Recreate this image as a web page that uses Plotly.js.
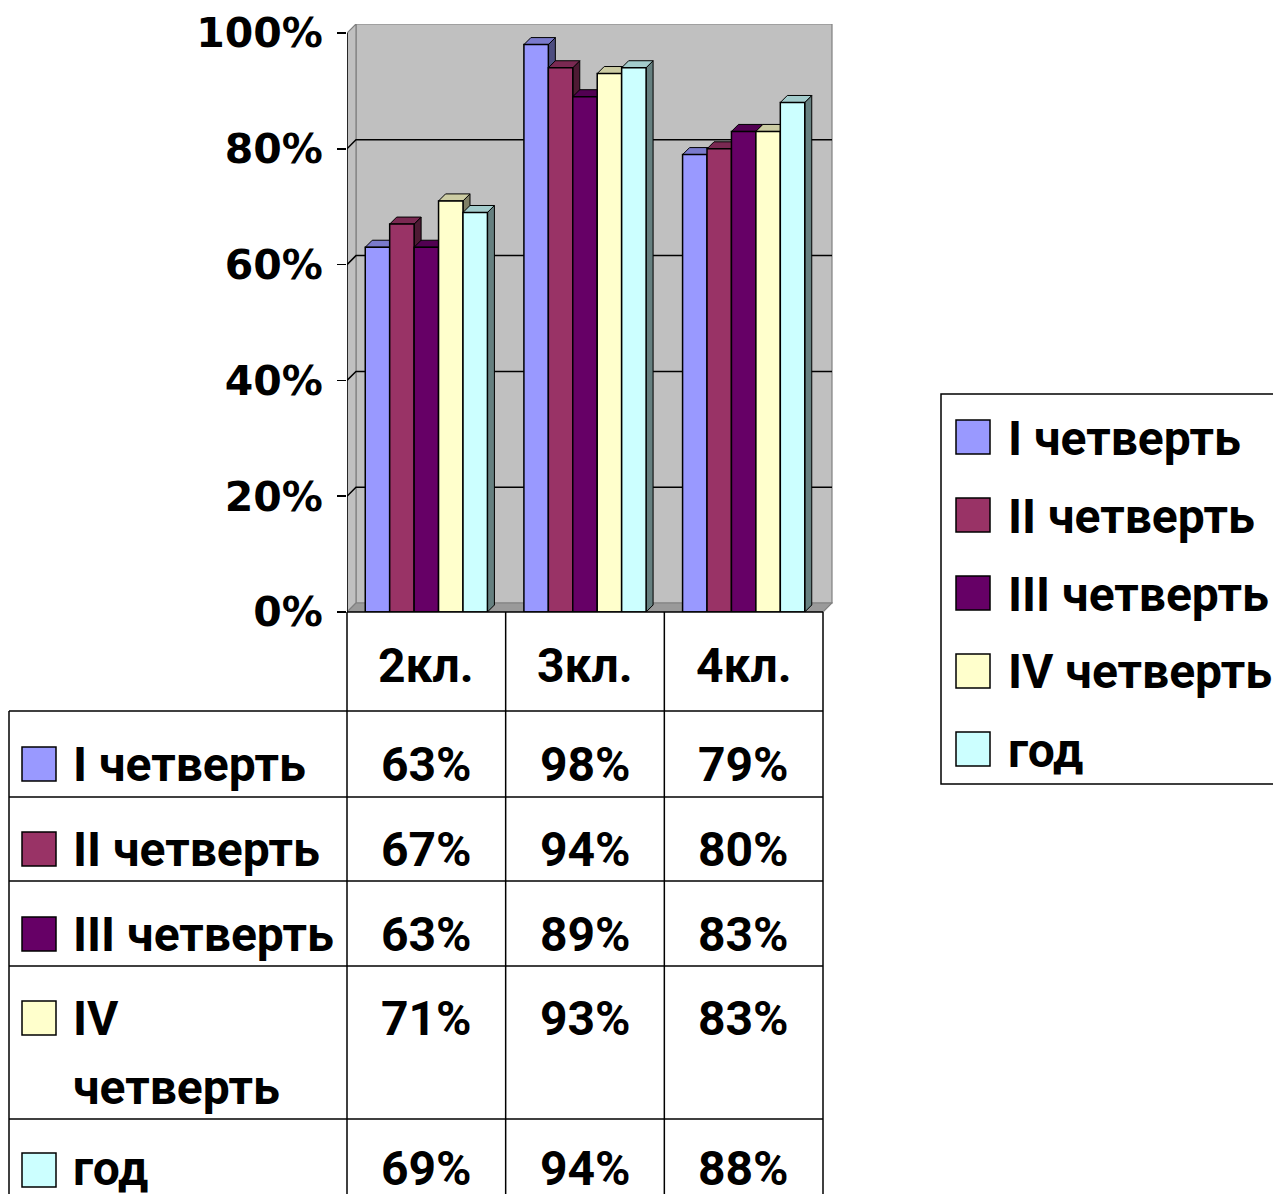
<!DOCTYPE html>
<html><head><meta charset="utf-8">
<script src="https://cdn.plot.ly/plotly-3.0.1.min.js"></script>
<style>html,body{margin:0;padding:0;background:#fff;} #chart{width:1273px;height:1194px;}</style>
</head><body><div id="chart"></div>
<script>
// ---- data ----
const categories = ['2кл.', '3кл.', '4кл.'];
const seriesNames = ['I четверть', 'II четверть', 'III четверть', 'IV четверть', 'год'];
const q1 = [63, 98, 79];
const q2 = [67, 94, 80];
const q3 = [63, 89, 83];
const q4 = [71, 93, 83];
const yearVals = [69, 94, 88];
const yTicks = [0, 20, 40, 60, 80, 100];

const seriesValues = [q1, q2, q3, q4, yearVals];
const fills = ['#9999FF', '#993366', '#660066', '#FFFFCC', '#CCFFFF'];

// ---- geometry (px) ----
const W = 1273, H = 1194;
const L = 347, R = 833, T = 24, B = 612;
const FRONT_R = 823, TOP100 = 33;
const UX = (FRONT_R - L) / categories.length;
const UY = (B - TOP100) / 100;
const XMIN = -0.5, XFRONT = XMIN + categories.length, XMAX = XMIN + (R - L) / UX;
const YMAX = (B - T) / UY;
const GAP = 0.23;
const BW = (1 - GAP) / seriesNames.length;
const WD = 9, BD = 7;
const wdx = WD / UX, wdy = WD / UY, bdx = BD / UX, bdy = BD / UY;

function shade(hex, k) {
  const n = parseInt(hex.slice(1), 16);
  const r = Math.round(((n >> 16) & 255) * k), g = Math.round(((n >> 8) & 255) * k), b = Math.round((n & 255) * k);
  return 'rgb(' + r + ',' + g + ',' + b + ')';
}
function px(X) { return (X - L) / (R - L); }
function py(Y) { return (B - Y) / (B - T); }

const shapes = [];
// back wall
shapes.push({type: 'path', xref: 'x', yref: 'y', layer: 'below',
  path: `M${XMIN + wdx},${wdy} L${XMIN + wdx},${100 + wdy} L${XFRONT + wdx},${100 + wdy} L${XFRONT + wdx},${wdy} Z`,
  fillcolor: '#C0C0C0', line: {color: '#808080', width: 1.2}});
// left wall
shapes.push({type: 'path', xref: 'x', yref: 'y', layer: 'below',
  path: `M${XMIN},0 L${XMIN + wdx},${wdy} L${XMIN + wdx},${100 + wdy} L${XMIN},100 Z`,
  fillcolor: '#C0C0C0', line: {color: '#808080', width: 1.2}});
// floor
shapes.push({type: 'path', xref: 'x', yref: 'y', layer: 'below',
  path: `M${XMIN},0 L${XMIN + wdx},${wdy} L${XFRONT + wdx},${wdy} L${XFRONT},0 Z`,
  fillcolor: '#9A9A9A', line: {color: '#808080', width: 1.2}});
// gridlines on walls
yTicks.filter(t => t > 0 && t < 100).forEach(t => {
  shapes.push({type: 'path', xref: 'x', yref: 'y', layer: 'below',
    path: `M${XMIN},${t} L${XMIN + wdx},${t + wdy} L${XFRONT + wdx},${t + wdy}`,
    line: {color: '#000', width: 1.5}});
});
// 3D faces of bars
categories.forEach((c, j) => {
  seriesValues.forEach((vals, i) => {
    const v = vals[j];
    const xl = j - (1 - GAP) / 2 + i * BW, xr = xl + BW;
    shapes.push({type: 'path', xref: 'x', yref: 'y', layer: 'below',
      path: `M${xr},0 L${xr + bdx},${bdy} L${xr + bdx},${v + bdy} L${xr},${v} Z`,
      fillcolor: shade(fills[i], 0.5), line: {color: '#000', width: 1}});
    shapes.push({type: 'path', xref: 'x', yref: 'y', layer: 'below',
      path: `M${xl},${v} L${xl + bdx},${v + bdy} L${xr + bdx},${v + bdy} L${xr},${v} Z`,
      fillcolor: shade(fills[i], 0.8), line: {color: '#000', width: 1}});
  });
});
// y axis line
shapes.push({type: 'line', xref: 'x', yref: 'y', x0: XMIN, x1: XMIN, y0: 0, y1: 100, line: {color: '#000', width: 1.5}});

// ---- data table ----
const lineStyle = {color: '#000', width: 1.5};
function hline(Y, X0, X1) { shapes.push({type: 'line', xref: 'paper', yref: 'paper', x0: px(X0), x1: px(X1), y0: py(Y), y1: py(Y), line: lineStyle}); }
function vline(X, Y0, Y1) { shapes.push({type: 'line', xref: 'paper', yref: 'paper', x0: px(X), x1: px(X), y0: py(Y0), y1: py(Y1), line: lineStyle}); }
const TBL_LEFT = 9;
const rowLines = [711, 797, 881, 966, 1119];
hline(B, L, FRONT_R);
rowLines.forEach(Y => hline(Y, TBL_LEFT, FRONT_R));
[0, 1, 2, 3].forEach(k => vline(L + k * UX, B, H + 5));
vline(TBL_LEFT, 711, H + 5);

const tFont = {family: 'Roboto, "Open Sans", sans-serif', size: 48, color: '#000', weight: 700};
const annotations = [];
function ann(text, X, Y, anchor) {
  annotations.push({text: text, xref: 'paper', yref: 'paper', x: px(X), y: py(Y), xanchor: anchor, yanchor: 'middle',
    showarrow: false, font: tFont, borderpad: 0});
}
function square(X0, Y0, size, color) {
  shapes.push({type: 'rect', xref: 'paper', yref: 'paper', x0: px(X0), x1: px(X0 + size), y0: py(Y0), y1: py(Y0 + size),
    fillcolor: color, line: {color: '#000', width: 1.5}});
}
// header
categories.forEach((c, j) => ann(c, L + (j + 0.5) * UX, 665, 'center'));
// rows
const rowCenters = [765, 850, 934, 1018, 1168];
const rowSquareTop = [747, 832, 917, 1001, 1153];
seriesNames.forEach((name, i) => {
  square(22, rowSquareTop[i], 34, fills[i]);
  if (i === 3) {
    const parts = name.split(' ');
    ann(parts[0], 72, rowCenters[i], 'left');
    ann(parts[1], 72, 1087, 'left');
  } else {
    ann(name, 72, rowCenters[i], 'left');
  }
  seriesValues[i].forEach((v, j) => ann(v + '%', L + (j + 0.5) * UX, rowCenters[i], 'center'));
});

// ---- legend ----
shapes.push({type: 'rect', xref: 'paper', yref: 'paper', x0: px(941), x1: px(1300), y0: py(394), y1: py(784),
  fillcolor: 'rgba(0,0,0,0)', line: {color: '#000', width: 1.5}});
seriesNames.forEach((name, i) => {
  square(956, 420 + 78 * i, 34, fills[i]);
  ann(name, 1007, 438 + 78 * i, 'left');
});

// ---- traces ----
const traces = seriesNames.map((name, i) => ({
  type: 'bar', name: name, x: categories.map((c, j) => j), y: seriesValues[i],
  marker: {color: fills[i], line: {color: '#000', width: 1.5}}, hoverinfo: 'none'
}));

const layout = {
  width: W, height: H,
  margin: {l: L, r: W - R, t: T, b: H - B, pad: 0},
  paper_bgcolor: '#fff', plot_bgcolor: 'rgba(0,0,0,0)',
  showlegend: false, barmode: 'group', bargap: GAP, bargroupgap: 0,
  xaxis: {range: [XMIN, XMAX], showgrid: false, zeroline: false, showticklabels: false, ticks: '', showline: false, fixedrange: true},
  yaxis: {range: [0, YMAX], tickvals: yTicks, ticktext: yTicks.map(v => v + '%'), ticks: 'outside', ticklen: 9, tickwidth: 1.5,
    tickcolor: '#000', showgrid: false, zeroline: false, showline: false, fixedrange: true, ticklabelstandoff: 6,
    tickfont: {family: '"DejaVu Sans", sans-serif', size: 41, color: '#000', weight: 700}},
  shapes: shapes, annotations: annotations
};
Plotly.newPlot('chart', traces, layout, {staticPlot: true, displayModeBar: false});
</script>
</body></html>
